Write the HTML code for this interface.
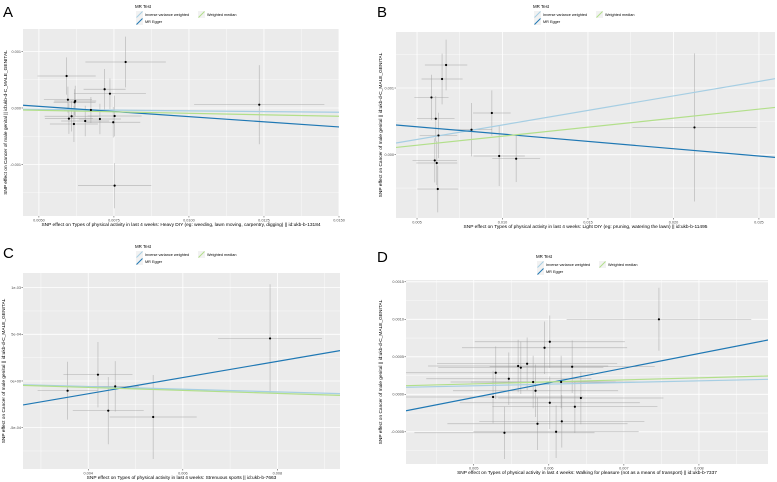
<!DOCTYPE html>
<html><head><meta charset="utf-8"><style>
html,body{margin:0;padding:0;background:#fff;width:777px;height:482px;overflow:hidden;}
svg{display:block;font-family:"Liberation Sans",sans-serif;}
</style></head><body>
<svg id="fig" width="777" height="482" viewBox="0 0 777 482" xmlns="http://www.w3.org/2000/svg"></svg>
<script>
// ---- Panel A data ----
const aX=[0.005923,0.005967,0.00621,0.00619,0.006733,0.00719,0.007367,0.00789,0.006,0.00609,0.006167,0.006543,0.007033,0.007477,0.007523,0.007523,0.012343];
const aY=[0.000566,0.000147,0.000124,0.000101,-0.0000354,0.000331,0.000253,0.000814,-0.000189,-0.000147,-0.000283,-0.00023,-0.000195,-0.000253,-0.000142,-0.001375,0.0000584];
const aXse=[0.00097,0.0008,0.0007,0.0007,0.0009,0.0007,0.0012,0.00134,0.0008,0.0009,0.0008,0.0008,0.0007,0.0009,0.0009,0.00122,0.00217];
const aYse=[0.00033,0.00023,0.00027,0.00023,0.00023,0.00036,0.00027,0.00045,0.00027,0.00027,0.00032,0.00027,0.00027,0.00027,0.00036,0.0004,0.0007];
const aSlope=[-0.00504,-0.03645,-0.0106];
const aInt=[-0.0000005,0.000211,0.000012];
const aXTicks=[0.005,0.0075,0.01,0.0125,0.015];
const aXLabels=["0.0050","0.0075","0.0100","0.0125","0.0150"];
const aYTicks=[0.001,0,-0.001];
const aYLabels=["0.001","0.000","-0.001"];
// ---- Panel B data ----
const bX=[0.0067,0.006465,0.005844,0.006096,0.006254,0.008187,0.009377,0.009805,0.0108,0.006037,0.006154,0.006213,0.02123];
const bY=[0.001345,0.001135,0.000859,0.00054,0.000289,0.000375,0.000625,-0.0000195,-0.00006,-0.0000855,-0.000124,-0.000514,0.000409];
const bXse=[0.00124,0.0012,0.001,0.0011,0.0011,0.0012,0.0011,0.0015,0.0014,0.0013,0.0012,0.0012,0.00363];
const bYse=[0.00038,0.00038,0.00034,0.00034,0.00034,0.0004,0.00034,0.00045,0.00035,0.00033,0.00033,0.00035,0.00111];
const bSlope=[0.04353,-0.0219,0.02706];
const bInt=[0.0000109,0.000528,0.000007];
const bXTicks=[0.005,0.01,0.015,0.02,0.025];
const bXLabels=["0.005","0.010","0.015","0.020","0.025"];
const bYTicks=[0.001,0];
const bYLabels=["0.001","0.000"];
// ---- Panel C data ----
const cX=[0.003563,0.004205,0.00457,0.004423,0.005373,0.007845];
const cY=[-0.000104,0.0000675,-0.0000579,-0.000318,-0.000386,0.000456];
const cXse=[0.000634,0.00073,0.0005,0.00075,0.00092,0.0011];
const cYse=[0.00031,0.00035,0.00027,0.00036,0.00045,0.00058];
const cSlope=[-0.01433,0.0868,-0.01596];
const cInt=[-0.0000021,-0.000484,-0.0000053];
const cXTicks=[0.004,0.006,0.008];
const cXLabels=["0.004","0.006","0.008"];
const cYTicks=[0.001,0.0005,0,-0.0005];
const cYLabels=["1e-03","5e-04","0e+00","-5e-04"];
// ---- Panel D data ----
const dX=[0.007467,0.006013,0.005943,0.005591,0.005627,0.005711,0.006311,0.005293,0.005467,0.005791,0.006164,0.005823,0.005257,0.006427,0.006013,0.006347,0.005849,0.006173,0.005409,0.006097];
const dY=[0.001,0.000701,0.000621,0.000377,0.000355,0.000408,0.000368,0.000288,0.000208,0.000164,0.000164,0.000048,-0.000036,-0.000049,-0.000112,-0.000165,-0.000392,-0.00036,-0.000512,-0.000499];
const dXse=[0.00123,0.001,0.0011,0.0012,0.0011,0.0012,0.0011,0.0013,0.0011,0.0011,0.0012,0.0011,0.0012,0.0011,0.0012,0.0011,0.0012,0.0011,0.0012,0.0011];
const dYse=[0.00042,0.00035,0.00035,0.00035,0.00035,0.00035,0.00035,0.00035,0.00035,0.00035,0.00035,0.00035,0.00035,0.00035,0.00035,0.00035,0.00035,0.00035,0.00035,0.00035];
const dSlope=[0.02214,0.1955,0.02675];
const dInt=[0.0000026,-0.00102,0.0000054];
const dXTicks=[0.005,0.006,0.007,0.008];
const dXLabels=["0.005","0.006","0.007","0.008"];
const dYTicks=[0.0015,0.001,0.0005,0,-0.0005];
const dYLabels=["0.0015","0.0010","0.0005","0.0000","-0.0005"];

const methodColors=["#a6cee3","#1f78b4","#b2df8a"];
const methodNames=["ivw-line","egger-line","weighted-median-line"];
const NS="http://www.w3.org/2000/svg";
const svg=document.getElementById('fig');
function mk(tag,attrs,parent,text){const e=document.createElementNS(NS,tag);for(const k in attrs)e.setAttribute(k,attrs[k]);if(text!==undefined)e.textContent=text;(parent||svg).appendChild(e);return e;}

const panels=[
 {id:'a',letter:'A',lx:3,ly:17,L:23,R:339,T:29,B:216,xmin:0.00447,xmax:0.015,ymin:-0.001912,ymax:0.001398,X:aX,Y:aY,XS:aXse,YS:aYse,S:aSlope,I:aInt,xt:aXTicks,xl:aXLabels,yt:aYTicks,yl:aYLabels,ytx:7,leg:[135,4],
  xtitle:"SNP effect on Types of physical activity in last 4 weeks: Heavy DIY (eg: weeding, lawn moving, carpentry, digging) || id:ukb-b-13184"},
 {id:'b',letter:'B',lx:377,ly:17,L:396,R:775,T:32,B:218,xmin:0.00377,xmax:0.02594,ymin:-0.000949,ymax:0.00184,X:bX,Y:bY,XS:bXse,YS:bYse,S:bSlope,I:bInt,xt:bXTicks,xl:bXLabels,yt:bYTicks,yl:bYLabels,ytx:382,leg:[533,4],
  xtitle:"SNP effect on Types of physical activity in last 4 weeks: Light DIY (eg: pruning, watering the lawn) || id:ukb-b-11495"},
 {id:'c',letter:'C',lx:3,ly:258,L:23,R:340,T:273,B:469,xmin:0.00262,xmax:0.009324,ymin:-0.000943,ymax:0.001157,X:cX,Y:cY,XS:cXse,YS:cYse,S:cSlope,I:cInt,xt:cXTicks,xl:cXLabels,yt:cYTicks,yl:cYLabels,ytx:5,leg:[135,244],
  xtitle:"SNP effect on Types of physical activity in last 4 weeks: Strenuous sports || id:ukb-b-7663"},
 {id:'d',letter:'D',lx:377,ly:262,L:406,R:768,T:280,B:464,xmin:0.0040973,xmax:0.00892,ymin:-0.000929,ymax:0.001524,X:dX,Y:dY,XS:dXse,YS:dYse,S:dSlope,I:dInt,xt:dXTicks,xl:dXLabels,yt:dYTicks,yl:dYLabels,ytx:382,leg:[536,254],
  xtitle:"SNP effect on Types of physical activity in last 4 weeks: Walking for pleasure (not as a means of transport) || id:ukb-b-7337"}
];

panels.forEach(p=>{
  const g=mk('g',{});
  
  
  const sx=v=>p.L+(v-p.xmin)/(p.xmax-p.xmin)*(p.R-p.L);
  const sy=v=>p.B-(v-p.ymin)/(p.ymax-p.ymin)*(p.B-p.T);
  const lt=mk('text',{x:p.lx,y:p.ly,'font-size':15,fill:'#000'},g,p.letter);
  
  
  const bg=mk('rect',{x:p.L,y:p.T,width:p.R-p.L,height:p.B-p.T,fill:'#ebebeb'},g);
  
  
  const cp='clip-'+p.id;
  const cdef=mk('clipPath',{id:cp},g);mk('rect',{x:p.L,y:p.T,width:p.R-p.L,height:p.B-p.T},cdef);
  const inner=mk('g',{'clip-path':'url(#'+cp+')'},g);
  const xs=p.xt[1]-p.xt[0];
  for(let v=p.xt[0]-xs*3;v<=p.xmax+xs;v+=xs/2){
    if(v<p.xmin||v>p.xmax) continue;
    const major=Math.abs(((v-p.xt[0])/xs)-Math.round((v-p.xt[0])/xs))<1e-6;
    mk('line',{x1:sx(v),x2:sx(v),y1:p.T,y2:p.B,stroke:'#fff','stroke-width':major?0.8:0.4},inner);
  }
  const ys=p.yt[0]-p.yt[1];
  for(let v=p.yt[p.yt.length-1]-ys*3;v<=p.ymax+ys;v+=ys/2){
    if(v<p.ymin||v>p.ymax) continue;
    const major=Math.abs(((v-p.yt[0])/ys)-Math.round((v-p.yt[0])/ys))<1e-6;
    mk('line',{x1:p.L,x2:p.R,y1:sy(v),y2:sy(v),stroke:'#fff','stroke-width':major?0.8:0.4},inner);
  }
  for(let i=0;i<p.X.length;i++){
    const h=mk('line',{x1:sx(p.X[i]-p.XS[i]),x2:sx(p.X[i]+p.XS[i]),y1:sy(p.Y[i]),y2:sy(p.Y[i]),stroke:'#9a9a9a','stroke-opacity':0.6,'stroke-width':0.7},inner);
    
    
    const v=mk('line',{x1:sx(p.X[i]),x2:sx(p.X[i]),y1:sy(p.Y[i]-p.YS[i]),y2:sy(p.Y[i]+p.YS[i]),stroke:'#9a9a9a','stroke-opacity':0.6,'stroke-width':0.7},inner);
    
    
  }
  for(let m=0;m<3;m++){
    const ln=mk('line',{x1:sx(p.xmin),y1:sy(p.I[m]+p.S[m]*p.xmin),x2:sx(p.xmax),y2:sy(p.I[m]+p.S[m]*p.xmax),stroke:methodColors[m],'stroke-width':1.2},inner);
    
    
  }
  for(let i=0;i<p.X.length;i++){
    const c=mk('circle',{cx:sx(p.X[i]),cy:sy(p.Y[i]),r:1.1,fill:'#000'},inner);
    
    
  }
  p.xt.forEach((v,i)=>{
    mk('line',{x1:sx(v),x2:sx(v),y1:p.B,y2:p.B+1.5,stroke:'#333','stroke-width':0.5},g);
    const t=mk('text',{x:sx(v),y:p.B+5.5,'font-size':3.8,fill:'#4d4d4d','text-anchor':'middle'},g,p.xl[i]);
    
    
  });
  p.yt.forEach((v,i)=>{
    mk('line',{x1:p.L-1.5,x2:p.L,y1:sy(v),y2:sy(v),stroke:'#333','stroke-width':0.5},g);
    const t=mk('text',{x:p.L-2,y:sy(v)+1.3,'font-size':3.8,fill:'#4d4d4d','text-anchor':'end'},g,p.yl[i]);
    
    
  });
  const xt=mk('text',{x:(p.L+p.R)/2,y:p.B+10,'font-size':4.8,fill:'#000','text-anchor':'middle'},g,p.xtitle);
  
  
  const cy=(p.T+p.B)/2;
  const yt=mk('text',{x:p.ytx,y:cy,'font-size':4.8,fill:'#000','text-anchor':'middle',transform:'rotate(-90 '+p.ytx+' '+cy+')'},g,"SNP effect on Cancer of male genital || id:ukb-d-C_MALE_GENITAL");
  
  
  const lg=mk('g',{},g);
  
  
  const [ox,oy]=p.leg;
  mk('text',{x:ox,y:oy+4,'font-size':4.4,fill:'#000'},lg,'MR Test');
  const keys=[[ox+1,oy+7,0,'Inverse variance weighted'],[ox+1,oy+14,1,'MR Egger'],[ox+63,oy+7,2,'Weighted median']];
  keys.forEach(k=>{
    const e=mk('g',{},lg);
    
    
    mk('rect',{x:k[0],y:k[1],width:7,height:7,fill:'#f2f2f2'},e);
    mk('line',{x1:k[0]+0.5,y1:k[1]+6.5,x2:k[0]+6.5,y2:k[1]+0.5,stroke:methodColors[k[2]],'stroke-width':1},e);
    mk('text',{x:k[0]+9,y:k[1]+4.8,'font-size':3.8,fill:'#000'},e,k[3]);
  });
});
</script>
</body></html>
